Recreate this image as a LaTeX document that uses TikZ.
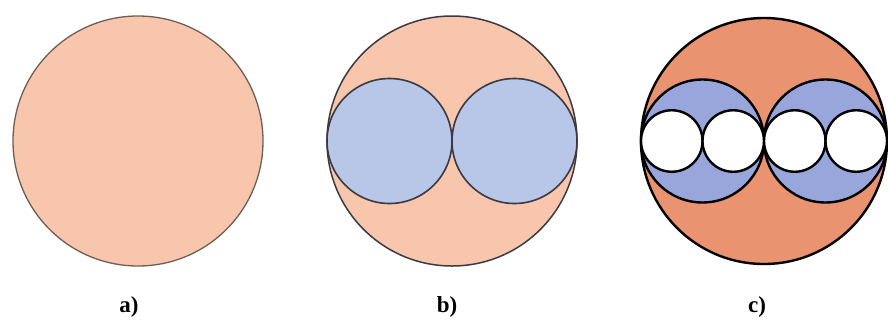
\documentclass[tikz,border=0pt]{standalone}
\usepackage{fontspec}
\setmainfont{Liberation Serif}
\begin{document}
\begin{tikzpicture}[x=1pt,y=-1pt,
  peach/.style={fill=peachA,draw=edgeA,line width=1.3pt},
  peachb/.style={fill=peachA,draw=edgeB,line width=1.5pt},
  blueb/.style={fill=blueA,draw=edgeB,line width=1.6pt},
  orangec/.style={fill=peachC,draw=black,line width=2.4pt},
  bluec/.style={fill=blueC,draw=black,line width=2.4pt},
  whitec/.style={fill=white,draw=black,line width=2.4pt},
  lab/.style={font=\fontsize{23}{23}\selectfont\bfseries,inner sep=0pt}]
\definecolor{peachA}{HTML}{F8C6AC}
\definecolor{peachC}{HTML}{EA9370}
\definecolor{blueA}{HTML}{B8C6E8}
\definecolor{blueC}{HTML}{98A6DC}
\definecolor{edgeA}{HTML}{6E5E55}
\definecolor{edgeB}{HTML}{3A3A42}
\useasboundingbox (0,0) rectangle (888,322);
% a
\node[peach,circle,minimum size=250pt,inner sep=0pt] (A) at (138,141) {};
\node[lab] (la) at (129,307) {a)};
% b
\node[peachb,circle,minimum size=250pt,inner sep=0pt] (B) at (452,141) {};
\node[blueb,circle,minimum size=125pt,inner sep=0pt] (B1) at (389.5,141) {};
\node[blueb,circle,minimum size=125pt,inner sep=0pt] (B2) at (514.5,141) {};
\node[lab] (lb) at (447,307) {b)};
% c
\node[orangec,circle,minimum size=246pt,inner sep=0pt] (C) at (764,141) {};
\node[bluec,circle,minimum size=123pt,inner sep=0pt] (C1) at (702.5,141) {};
\node[bluec,circle,minimum size=123pt,inner sep=0pt] (C2) at (825.5,141) {};
\node[whitec,circle,minimum size=61.5pt,inner sep=0pt] (W1) at (671.75,141) {};
\node[whitec,circle,minimum size=61.5pt,inner sep=0pt] (W2) at (733.25,141) {};
\node[whitec,circle,minimum size=61.5pt,inner sep=0pt] (W3) at (794.75,141) {};
\node[whitec,circle,minimum size=61.5pt,inner sep=0pt] (W4) at (856.25,141) {};
\node[lab] (lc) at (757,307) {c)};
\end{tikzpicture}
\end{document}
